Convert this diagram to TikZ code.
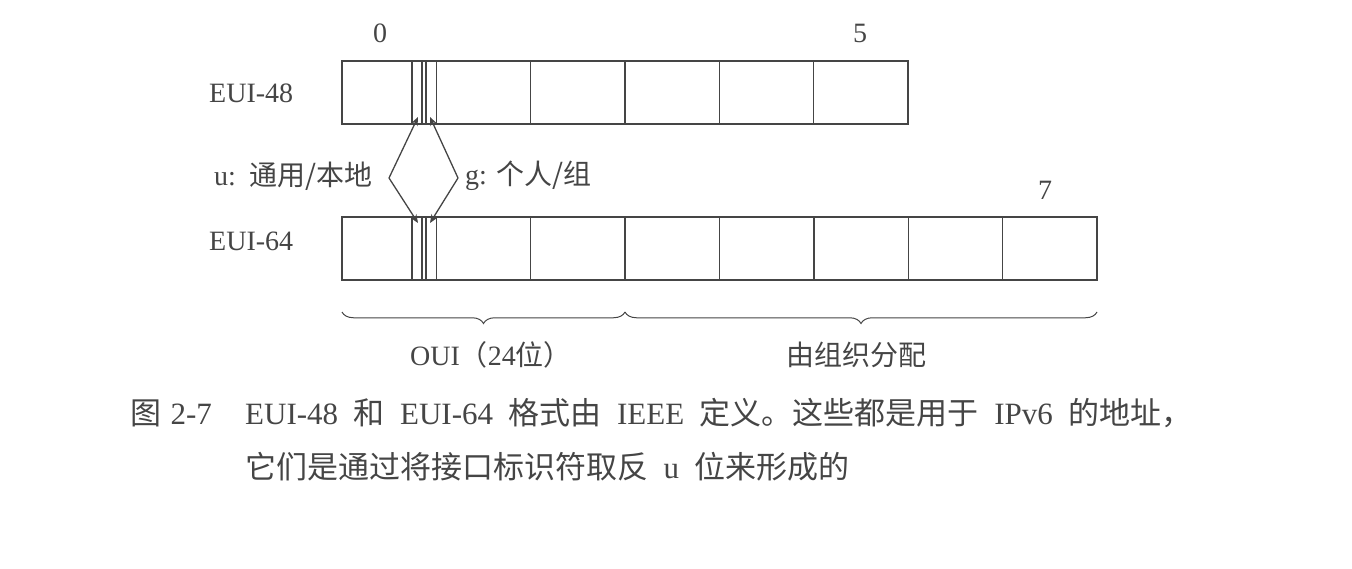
\documentclass[tikz,border=0pt]{standalone}
\usepackage{fontspec}
\setmainfont{Liberation Serif}
\newfontfamily\cjk{Noto Sans CJK SC}
\usetikzlibrary{decorations.pathreplacing,arrows.meta}
\definecolor{ink}{gray}{0.27}
\newcommand\gp{\hspace{0.5em}}
\begin{document}
\begin{tikzpicture}[x=1pt,y=-1pt,
  cell/.style={draw=ink, line width=1.4pt, minimum width=94.35pt, minimum height=63pt, inner sep=0pt, outer sep=0pt, anchor=north west},
  lbl/.style={font=\fontsize{28}{32}\selectfont, text=ink, inner sep=0pt},
  captext/.style={font=\fontsize{31}{36}\selectfont, text=ink, inner sep=0pt},
  bitline/.style={draw=ink, line width=1.3pt},
  ptr/.style={draw=ink, line width=1.3pt, -{Stealth[open,length=8.5pt,width=7pt]}},
  brc/.style={draw=ink, line width=1pt, decorate, decoration={brace, mirror, amplitude=11.5pt}}]
\useasboundingbox (0,0) rectangle (1352,568);
% EUI-48 row
\foreach \i in {0,...,5} \node[cell] (a\i) at ({342+94.33*\i},61) {};
% EUI-64 row
\foreach \i in {0,...,7} \node[cell] (b\i) at ({342+94.37*\i},217) {};
% u / g bit strips
\foreach \xx in {412,422,426} {
  \draw[bitline] (\xx,61) -- (\xx,124);
  \draw[bitline] (\xx,217) -- (\xx,280);
}
% diamond pointers
\coordinate (L) at (389,178);
\coordinate (R) at (458,178);
\coordinate (uT) at (418,117);
\coordinate (gT) at (430,117);
\coordinate (uB) at (418,223);
\coordinate (gB) at (430,223);
\draw[ptr] (L) -- (uT);
\draw[ptr] (L) -- (uB);
\draw[ptr] (R) -- (gT);
\draw[ptr] (R) -- (gB);
% labels
\node[lbl] (n0) at (380,33) {0};
\node[lbl] (n5) at (860,33) {5};
\node[lbl] (n7) at (1045,190) {7};
\node[lbl, anchor=west] (e48) at (209,93) {EUI-48};
\node[lbl, anchor=west] (e64) at (209,241) {EUI-64};
\node[lbl, anchor=east] (ul) at (373,176) {u:\hspace{0.5em}{\cjk 通用/本地}};
\node[lbl, anchor=west] (gl) at (465,176) {g:\hspace{0.35em}{\cjk 个人/组}};
% braces
\coordinate (br0) at (342,312);
\coordinate (br1) at (625,312);
\coordinate (br2) at (1097,312);
\draw[brc] (br0) -- (br1);
\draw[brc] (br1) -- (br2);
\node[lbl] (oui) at (491,355) {OUI{\cjk （}24{\cjk 位）}};
\node[lbl] (org) at (856,355) {\cjk 由组织分配};
% caption
\node[captext, anchor=west] (fig) at (130,413) {{\cjk 图}\hspace{0.3em}2-7};
\node[captext, anchor=west] (cap1) at (245,413) {EUI-48\gp{\cjk 和}\gp EUI-64\gp{\cjk 格式由}\gp IEEE\gp{\cjk 定义。这些都是用于}\gp IPv6\gp{\cjk 的地址，}};
\node[captext, anchor=west] (cap2) at (245,467) {{\cjk 它们是通过将接口标识符取反}\gp u\gp{\cjk 位来形成的}};
\end{tikzpicture}
\end{document}
